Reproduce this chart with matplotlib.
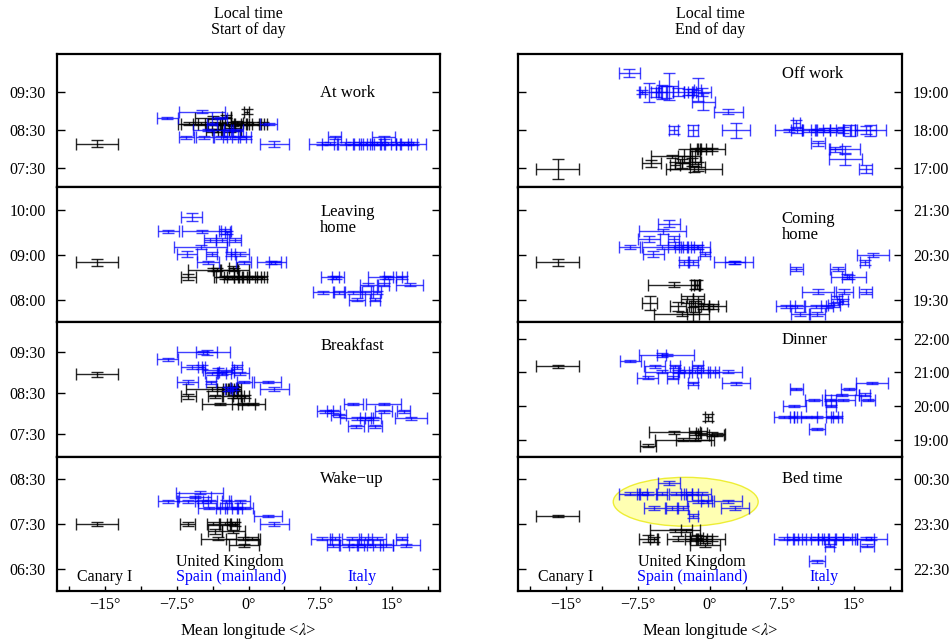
import numpy as np
import matplotlib
matplotlib.use('Agg')
import matplotlib.pyplot as plt
from matplotlib.patches import Ellipse
from matplotlib.ticker import FuncFormatter
import matplotlib.transforms as mtransforms

plt.rcParams['font.family'] = 'Liberation Serif'
plt.rcParams['mathtext.fontset'] = 'stix'
plt.rcParams['font.size'] = 11.5

# (longitude, hour, xerr, yerr) -- hours as decimal local time
work_black = [(-15.85, 8.15, 2.2, 0.10), (-0.2, 8.99, 0.3, 0.07), (-3.7, 8.83, 1.9, 0.04),
              (-2.3, 8.85, 0.5, 0.04), (-6.2, 8.67, 0.9, 0.04), (-5.0, 8.67, 0.8, 0.04),
              (-3.5, 8.67, 1.0, 0.04), (-2.1, 8.67, 0.7, 0.04), (-1.6, 8.67, 1.4, 0.05),
              (-1.2, 8.69, 0.6, 0.05), (-0.7, 8.67, 0.8, 0.04), (-0.2, 8.67, 0.6, 0.04),
              (0.5, 8.67, 0.8, 0.04), (-2.9, 8.66, 4.5, 0.03), (-3.8, 8.5, 0.6, 0.04),
              (-3.3, 8.5, 0.5, 0.04), (-1.9, 8.5, 1.0, 0.05), (-1.4, 8.52, 0.6, 0.04),
              (1.5, 8.67, 0.4, 0.04)]
work_blue = [(-8.47, 8.83, 1.08, 0.03), (-4.9, 8.99, 2.4, 0.04), (-3.0, 8.83, 0.8, 0.03),
             (-3.8, 8.67, 0.5, 0.03), (2.1, 8.67, 0.87, 0.03), (-4.2, 8.5, 1.6, 0.03),
             (-2.1, 8.5, 0.5, 0.03), (-1.2, 8.5, 0.6, 0.03), (-6.5, 8.32, 0.8, 0.04),
             (-4.6, 8.32, 0.9, 0.04), (-2.9, 8.32, 0.7, 0.04), (-1.9, 8.32, 0.8, 0.04),
             (-1.0, 8.32, 0.7, 0.04), (-0.3, 8.32, 0.6, 0.04), (2.7, 8.15, 1.5, 0.08),
             (9.0, 8.32, 0.65, 0.04), (14.1, 8.32, 1.25, 0.04),
             (7.64, 8.15, 1.3, 0.03), (8.5, 8.15, 0.8, 0.03), (10.1, 8.15, 0.9, 0.03),
             (10.95, 8.15, 0.8, 0.03), (11.65, 8.15, 0.7, 0.03), (12.3, 8.15, 0.8, 0.03),
             (12.85, 8.15, 0.9, 0.03), (13.4, 8.15, 0.7, 0.03), (13.9, 8.15, 1.0, 0.03),
             (14.6, 8.15, 0.8, 0.03), (15.5, 8.15, 1.2, 0.03), (16.2, 8.15, 0.8, 0.03),
             (16.7, 8.15, 0.9, 0.03), (17.2, 8.15, 1.3, 0.03)]

leave_black = [(-15.85, 8.83, 2.2, 0.07), (-3.7, 8.67, 2.6, 0.04), (-1.5, 8.67, 1.5, 0.04),
               (-3.3, 8.67, 0.4, 0.04), (-1.6, 8.7, 0.4, 0.05), (-6.3, 8.5, 0.8, 0.06),
               (-2.45, 8.5, 0.9, 0.03), (-2.1, 8.5, 1.5, 0.03), (-1.75, 8.5, 0.8, 0.03),
               (-1.2, 8.5, 1.0, 0.03), (-0.7, 8.5, 0.8, 0.03), (-0.2, 8.5, 0.9, 0.03),
               (0.33, 8.5, 1.0, 0.03), (0.85, 8.5, 0.8, 0.03), (1.4, 8.5, 0.5, 0.03)]
leave_blue = [(-5.95, 9.84, 1.13, 0.09), (-8.4, 9.52, 1.1, 0.03), (-4.9, 9.52, 2.0, 0.04),
              (-2.45, 9.52, 0.6, 0.05), (-2.2, 9.5, 0.3, 0.04), (-4.0, 9.33, 0.6, 0.05),
              (-2.8, 9.33, 0.6, 0.05), (-1.4, 9.33, 0.6, 0.05), (-5.0, 9.17, 2.8, 0.04),
              (-6.4, 9.02, 1.05, 0.06), (-3.85, 9.02, 0.55, 0.04), (-1.86, 9.02, 0.5, 0.05),
              (-0.9, 9.02, 0.95, 0.04), (-4.2, 8.83, 1.15, 0.04), (-0.5, 8.83, 0.8, 0.03),
              (2.4, 8.83, 1.5, 0.03), (2.75, 8.83, 0.6, 0.03),
              (8.8, 8.5, 1.2, 0.03), (9.1, 8.5, 0.4, 0.03), (14.25, 8.5, 1.8, 0.03),
              (14.6, 8.5, 0.5, 0.03), (16.0, 8.5, 0.6, 0.03), (12.5, 8.33, 0.9, 0.03),
              (14.1, 8.33, 0.6, 0.03), (16.85, 8.33, 1.4, 0.03), (7.8, 8.16, 1.1, 0.03),
              (9.4, 8.16, 0.6, 0.03), (10.95, 8.16, 0.9, 0.03), (12.2, 8.16, 0.6, 0.03),
              (13.4, 8.16, 0.4, 0.03), (11.3, 8.0, 0.85, 0.03), (13.2, 8.0, 0.5, 0.03)]

bfast_black = [(-15.85, 8.96, 2.2, 0.07), (-3.85, 8.6, 2.7, 0.04), (-2.8, 8.6, 0.5, 0.04),
               (-2.1, 8.6, 0.6, 0.04), (-1.6, 8.6, 0.5, 0.05), (-1.4, 8.6, 0.6, 0.05),
               (-1.5, 8.62, 0.3, 0.05), (-6.3, 8.42, 0.8, 0.06), (-3.5, 8.42, 0.7, 0.04),
               (-1.6, 8.42, 1.1, 0.04), (-1.2, 8.42, 0.4, 0.04), (-0.4, 8.42, 0.4, 0.04),
               (-3.0, 8.23, 1.9, 0.03), (-0.55, 8.23, 1.2, 0.03), (0.5, 8.23, 1.2, 0.03)]
bfast_blue = [(-4.7, 9.5, 2.8, 0.04), (-4.35, 9.5, 1.1, 0.05), (-8.45, 9.33, 1.1, 0.03),
              (-5.95, 9.14, 1.1, 0.04), (-4.9, 9.14, 0.4, 0.04), (-3.15, 9.07, 1.65, 0.04),
              (-1.23, 9.14, 0.5, 0.05), (-3.85, 8.99, 0.7, 0.04), (-2.8, 8.99, 0.5, 0.04),
              (-2.3, 9.01, 0.8, 0.04), (-0.9, 8.99, 0.95, 0.04), (-6.35, 8.77, 1.1, 0.05),
              (-3.9, 8.77, 0.55, 0.04), (-0.45, 8.77, 0.8, 0.03), (2.0, 8.77, 1.4, 0.03),
              (2.7, 8.6, 1.5, 0.04), (-2.1, 8.6, 0.4, 0.04), (-1.6, 8.62, 0.3, 0.04),
              (10.95, 8.23, 1.0, 0.03), (14.1, 8.23, 1.8, 0.03), (8.0, 8.05, 0.8, 0.03),
              (8.85, 8.05, 0.7, 0.03), (14.1, 8.05, 0.9, 0.03), (16.2, 8.05, 0.7, 0.03),
              (9.4, 7.95, 0.8, 0.03), (11.3, 7.88, 1.7, 0.03), (12.2, 7.88, 0.6, 0.03),
              (13.0, 7.88, 0.8, 0.03), (17.0, 7.88, 1.65, 0.03), (11.2, 7.68, 0.85, 0.03),
              (13.2, 7.68, 0.7, 0.03)]

wake_black = [(-15.85, 7.5, 2.2, 0.04), (-6.35, 7.5, 0.8, 0.04), (-3.7, 7.5, 0.6, 0.03),
              (-2.45, 7.5, 0.5, 0.03), (-1.75, 7.5, 0.5, 0.03), (-1.4, 7.5, 0.4, 0.04),
              (-3.5, 7.33, 0.7, 0.05), (-1.6, 7.33, 1.2, 0.04), (-3.15, 7.17, 1.8, 0.03),
              (-0.55, 7.17, 1.8, 0.03), (0.33, 7.17, 0.7, 0.03), (-0.47, 7.02, 1.6, 0.03)]
wake_blue = [(-5.1, 8.19, 2.45, 0.03), (-5.6, 8.1, 1.7, 0.03), (-8.4, 8.0, 1.0, 0.03),
             (-6.35, 8.0, 1.1, 0.03), (-4.9, 8.0, 0.7, 0.03), (-4.0, 8.0, 0.7, 0.03),
             (-2.3, 8.0, 0.5, 0.03), (-0.9, 8.0, 1.1, 0.03), (-4.1, 7.85, 1.15, 0.03),
             (-2.8, 7.85, 0.6, 0.03), (-1.75, 7.85, 0.7, 0.03), (-1.2, 7.85, 0.5, 0.03),
             (-0.35, 7.85, 0.8, 0.03), (2.0, 7.67, 1.45, 0.03), (2.7, 7.5, 1.5, 0.04),
             (7.65, 7.17, 1.1, 0.03), (9.0, 7.17, 0.5, 0.03), (10.8, 7.17, 1.0, 0.03),
             (12.2, 7.17, 0.7, 0.03), (13.4, 7.17, 0.95, 0.03), (16.0, 7.17, 0.6, 0.03),
             (8.85, 7.02, 0.7, 0.03), (10.4, 7.02, 0.9, 0.03), (11.3, 7.02, 0.8, 0.03),
             (12.2, 7.02, 0.8, 0.03), (13.2, 7.02, 0.8, 0.03), (14.4, 7.02, 0.7, 0.03),
             (16.5, 7.02, 1.4, 0.03)]

off_black = [(-15.85, 16.98, 2.25, 0.26), (-6.1, 17.13, 0.95, 0.1), (-4.0, 17.32, 2.1, 0.04),
             (-2.7, 17.32, 0.6, 0.18), (-1.57, 17.32, 0.5, 0.2), (-1.5, 17.5, 0.6, 0.04),
             (-0.9, 17.5, 0.5, 0.04), (-0.4, 17.5, 0.6, 0.04), (0.2, 17.5, 1.4, 0.04),
             (-3.65, 17.08, 0.5, 0.1), (-2.9, 17.13, 0.7, 0.12), (-1.7, 16.98, 2.9, 0.08),
             (-1.3, 17.05, 0.8, 0.12), (-1.9, 17.17, 1.0, 0.1)]
off_blue = [(-8.4, 19.5, 1.1, 0.1), (-7.1, 19.0, 0.3, 0.05), (-6.35, 19.0, 0.9, 0.25),
            (-5.6, 19.0, 0.5, 0.12), (-5.05, 19.0, 0.6, 0.18), (-4.6, 19.0, 0.7, 0.15),
            (-4.3, 19.15, 1.0, 0.36), (-3.3, 19.0, 0.6, 0.1), (-2.25, 19.0, 0.5, 0.08),
            (-1.9, 19.0, 0.4, 0.08), (-1.3, 19.06, 0.4, 0.3), (-0.87, 19.0, 1.0, 0.1),
            (-0.7, 18.75, 1.2, 0.22), (1.9, 18.49, 1.5, 0.06), (-3.8, 18.0, 0.5, 0.1),
            (-1.75, 18.0, 0.5, 0.15), (2.7, 18.0, 1.5, 0.2), (9.0, 18.18, 0.4, 0.1),
            (8.2, 18.0, 1.4, 0.04), (9.05, 18.0, 0.6, 0.06), (10.3, 18.0, 0.7, 0.04),
            (11.15, 18.0, 0.6, 0.04), (11.85, 18.0, 0.7, 0.05), (12.4, 18.0, 1.5, 0.05),
            (13.25, 18.0, 0.7, 0.05), (13.9, 18.0, 0.8, 0.08), (14.6, 18.0, 0.7, 0.15),
            (16.2, 18.0, 1.1, 0.1), (16.7, 18.0, 1.6, 0.15), (11.25, 17.66, 0.7, 0.06),
            (13.05, 17.5, 0.7, 0.06), (14.1, 17.5, 1.55, 0.1), (14.1, 17.24, 1.75, 0.15),
            (16.2, 16.98, 0.7, 0.1)]

come_black = [(-15.85, 20.33, 2.25, 0.07), (-3.75, 19.83, 2.7, 0.06), (-1.57, 19.83, 0.4, 0.1),
              (-1.4, 19.83, 0.3, 0.1), (-6.3, 19.42, 0.8, 0.15), (-2.4, 19.51, 0.6, 0.08),
              (-1.2, 19.51, 0.6, 0.08), (-3.3, 19.35, 0.85, 0.1), (-1.57, 19.35, 0.6, 0.12),
              (-0.7, 19.35, 0.6, 0.06), (-0.17, 19.35, 1.8, 0.05), (0.35, 19.35, 0.5, 0.06),
              (-2.95, 19.18, 2.85, 0.05), (-1.75, 19.18, 0.6, 0.15)]
come_blue = [(-4.3, 21.19, 1.15, 0.08), (-4.9, 21.02, 2.45, 0.05), (-6.35, 20.85, 1.15, 0.07),
             (-3.8, 20.85, 0.55, 0.06), (-8.35, 20.67, 1.1, 0.05), (-5.05, 20.67, 2.0, 0.05),
             (-3.8, 20.67, 0.6, 0.05), (-2.95, 20.67, 0.7, 0.05), (-2.25, 20.67, 0.6, 0.05),
             (-1.4, 20.67, 0.6, 0.05), (-1.2, 20.67, 1.2, 0.05), (-5.9, 20.52, 1.1, 0.06),
             (-0.5, 20.52, 0.5, 0.05), (-2.7, 20.33, 0.5, 0.06), (-1.8, 20.33, 0.5, 0.06),
             (2.45, 20.33, 2.0, 0.03), (2.6, 20.33, 1.05, 0.03), (9.0, 20.18, 0.7, 0.05),
             (13.3, 20.18, 0.8, 0.05), (14.45, 20.01, 1.85, 0.04), (14.3, 20.01, 0.5, 0.05),
             (17.0, 20.5, 1.65, 0.05), (16.1, 20.33, 0.5, 0.06), (11.25, 19.68, 1.65, 0.06),
             (14.0, 19.68, 0.85, 0.06), (16.2, 19.68, 0.7, 0.05), (13.2, 19.51, 0.6, 0.06),
             (7.9, 19.35, 1.0, 0.04), (9.05, 19.35, 0.7, 0.04), (11.0, 19.35, 1.1, 0.04),
             (12.2, 19.35, 0.6, 0.04), (12.9, 19.38, 0.6, 0.05), (13.9, 19.46, 0.5, 0.05),
             (9.4, 19.18, 1.0, 0.04), (11.15, 19.18, 0.85, 0.05)]

dinner_black = [(-15.85, 21.18, 2.25, 0.05), (-0.17, 19.67, 0.35, 0.1), (-3.7, 19.22, 2.7, 0.05),
                (-1.57, 19.2, 0.6, 0.06), (-0.9, 19.2, 0.6, 0.06), (0.17, 19.17, 1.4, 0.05),
                (0.7, 19.15, 0.8, 0.05), (-2.8, 19.0, 2.9, 0.04), (-1.57, 19.0, 2.0, 0.05),
                (-6.45, 18.82, 0.8, 0.05)]
dinner_blue = [(-4.5, 21.52, 2.85, 0.04), (-5.05, 21.52, 0.5, 0.05), (-8.3, 21.34, 1.1, 0.04),
               (-5.75, 21.18, 1.1, 0.04), (-3.65, 21.18, 0.55, 0.04), (-1.3, 21.18, 0.55, 0.05),
               (-5.0, 21.02, 1.8, 0.04), (-3.3, 21.02, 0.6, 0.04), (-2.6, 21.02, 0.7, 0.04),
               (-1.57, 21.02, 0.6, 0.04), (-0.7, 21.02, 0.7, 0.04), (0.35, 21.02, 0.6, 0.04),
               (1.9, 21.02, 1.4, 0.04), (-6.5, 20.84, 1.1, 0.05), (-3.9, 20.84, 0.55, 0.05),
               (-1.77, 20.68, 0.5, 0.04), (2.7, 20.68, 1.5, 0.04), (9.0, 20.5, 0.65, 0.03),
               (16.9, 20.68, 1.65, 0.03), (14.45, 20.5, 0.8, 0.03), (16.1, 20.34, 0.55, 0.04),
               (13.75, 20.34, 1.8, 0.03), (10.8, 20.18, 0.9, 0.03), (12.55, 20.18, 0.6, 0.03),
               (13.9, 20.18, 1.25, 0.03), (16.45, 20.18, 0.75, 0.03), (8.8, 20.0, 1.2, 0.03),
               (12.6, 20.0, 0.5, 0.03), (7.7, 19.67, 1.05, 0.03), (8.7, 19.67, 0.4, 0.03),
               (9.95, 19.67, 1.2, 0.03), (11.15, 19.67, 1.7, 0.03), (12.7, 19.67, 0.6, 0.03),
               (13.2, 19.67, 0.6, 0.03), (11.15, 19.33, 0.85, 0.03)]

bed_black = [(-15.85, 23.67, 2.25, 0.03), (-3.65, 23.35, 2.6, 0.04), (-2.45, 23.35, 0.6, 0.04),
             (-6.45, 23.17, 0.9, 0.08), (-5.8, 23.15, 0.4, 0.06), (-3.3, 23.17, 1.2, 0.05),
             (-2.0, 23.17, 0.6, 0.05), (-1.4, 23.19, 0.7, 0.06), (-0.9, 23.17, 0.6, 0.05),
             (-0.4, 23.17, 0.6, 0.05), (0.2, 23.17, 1.4, 0.05), (-0.5, 23.02, 1.55, 0.04)]
bed_blue = [(-4.25, 24.41, 1.15, 0.04), (-8.35, 24.17, 1.1, 0.03), (-7.1, 24.17, 0.5, 0.03),
            (-6.45, 24.17, 0.9, 0.03), (-5.05, 24.17, 0.6, 0.03), (-3.5, 24.17, 0.8, 0.03),
            (-2.45, 24.17, 0.6, 0.03), (-1.9, 24.17, 0.6, 0.03), (-0.87, 24.17, 1.0, 0.03),
            (-1.3, 24.0, 1.1, 0.04), (-0.35, 24.0, 0.6, 0.04), (1.9, 24.0, 1.45, 0.03),
            (-5.8, 23.85, 1.1, 0.04), (-4.0, 23.85, 0.55, 0.05), (-2.8, 23.85, 0.55, 0.04),
            (2.6, 23.85, 1.5, 0.04), (-1.75, 23.67, 0.45, 0.04),
            (7.7, 23.17, 1.0, 0.03), (8.6, 23.17, 0.6, 0.03), (9.3, 23.17, 0.7, 0.03),
            (10.4, 23.17, 0.8, 0.03), (11.2, 23.17, 0.7, 0.03), (11.8, 23.17, 0.6, 0.03),
            (12.4, 23.17, 0.7, 0.03), (13.1, 23.17, 0.8, 0.03), (13.9, 23.17, 0.9, 0.03),
            (14.6, 23.17, 0.7, 0.03), (16.2, 23.17, 0.9, 0.03), (16.8, 23.17, 1.65, 0.03),
            (12.45, 23.01, 0.5, 0.03), (16.35, 23.01, 0.75, 0.03), (11.15, 22.66, 0.85, 0.03)]

left_titles = ['At work', 'Leaving\nhome', 'Breakfast', 'Wake\u2212up']
right_titles = ['Off work', 'Coming\nhome', 'Dinner', 'Bed time']
left_data = [(work_black, work_blue), (leave_black, leave_blue),
             (bfast_black, bfast_blue), (wake_black, wake_blue)]
right_data = [(off_black, off_blue), (come_black, come_blue),
              (dinner_black, dinner_blue), (bed_black, bed_blue)]
left_ylims = [(7.0, 10.5), (7.5, 10.5), (6.94, 10.25), (6.0, 9.0)]
right_ylims = [(16.5, 20.0), (19.0, 22.0), (18.5, 22.5), (22.0, 25.0)]
left_yticks = [[7.5, 8.5, 9.5], [8, 9, 10], [7.5, 8.5, 9.5], [6.5, 7.5, 8.5]]
right_yticks = [[17, 18, 19], [19.5, 20.5, 21.5], [19, 20, 21, 22], [22.5, 23.5, 24.5]]
left_label_y = [0.705, 0.755, 0.82, 0.83]
right_label_y = [0.848, 0.71, 0.866, 0.83]

BLUE = '#0000ff'


def hhmm(v, pos=None):
    mins = int(round(v * 60))
    return f'{(mins // 60) % 24:02d}:{mins % 60:02d}'


def degfmt(v, pos=None):
    if abs(v / 7.5 - round(v / 7.5)) > 1e-6:
        return ''
    s = f'{abs(v):g}°'
    return '\u2212' + s if v < -1e-9 else s


def draw(ax, pts, color, alpha):
    a = np.array(pts)
    ax.errorbar(a[:, 0], a[:, 1], xerr=a[:, 2], yerr=a[:, 3], fmt='none',
                ecolor=color, elinewidth=1.0, capsize=4, capthick=1.0, alpha=alpha)


fig = plt.figure(figsize=(9.51, 6.41), dpi=100)
W, H = 951, 641
row_edges = [54, 187.5, 322, 456.5, 591]
cols = [(57, 383), (518, 384)]

for c, (x0, w) in enumerate(cols):
    titles = left_titles if c == 0 else right_titles
    data = left_data if c == 0 else right_data
    ylims = left_ylims if c == 0 else right_ylims
    yticks = left_yticks if c == 0 else right_yticks
    laby = left_label_y if c == 0 else right_label_y
    for r in range(4):
        top, bot = row_edges[r], row_edges[r + 1]
        ax = fig.add_axes([x0 / W, 1 - bot / H, w / W, (bot - top) / H])
        black, blue = data[r]
        draw(ax, black, 'black', 0.85)
        draw(ax, blue, BLUE, 0.75)
        ax.set_xlim(-20, 20)
        ax.set_ylim(*ylims[r])
        ax.set_yticks(yticks[r])
        ax.yaxis.set_major_formatter(FuncFormatter(hhmm))
        for s in ax.spines.values():
            s.set_linewidth(1.6)
        ax.tick_params(axis='y', which='both', direction='in', length=6, width=1,
                       left=True, right=True, labelleft=(c == 0), labelright=(c == 1),
                       labelsize=11.5, pad=8)
        ax.text(0.687, laby[r], titles[r], transform=ax.transAxes, fontsize=12,
                ha='left', va='center', linespacing=1.0)
        if r == 3:
            ax.set_xticks(np.arange(-18.75, 19, 3.75))
            ax.xaxis.set_major_formatter(FuncFormatter(degfmt))
            ax.tick_params(axis='x', direction='in', length=3.5, width=1,
                           labelsize=11.5, pad=4)
            tr = mtransforms.blended_transform_factory(ax.transData, ax.transAxes)
            ax.text(-15, 0.104, 'Canary I', transform=tr, ha='center', va='center', fontsize=11.5)
            ax.text(-1.9, 0.216, 'United Kingdom', transform=tr, ha='center', va='center',
                    fontsize=11.5)
            ax.text(-1.8, 0.104, 'Spain (mainland)', transform=tr, ha='center', va='center',
                    fontsize=11.5, color=BLUE)
            ax.text(11.9, 0.104, 'Italy', transform=tr, ha='center', va='center',
                    fontsize=11.5, color=BLUE)
            ax.set_xlabel('Mean longitude <$\\lambda$>', fontsize=12, labelpad=6)
            if c == 1:
                ell = Ellipse((-2.53, 23.99), 15.1, 1.09, facecolor='#ffff99',
                              edgecolor='#e8e800', linewidth=1.0, alpha=0.75, zorder=0)
                ax.add_patch(ell)
        else:
            ax.set_xticks([])

fig.text(248.5 / W, 1 - 14 / H, 'Local time', ha='center', va='center', fontsize=11.5)
fig.text(248.5 / W, 1 - 30 / H, 'Start of day', ha='center', va='center', fontsize=11.5)
fig.text(710 / W, 1 - 14 / H, 'Local time', ha='center', va='center', fontsize=11.5)
fig.text(710 / W, 1 - 30 / H, 'End of day', ha='center', va='center', fontsize=11.5)

fig.savefig('out.png', dpi=100)
